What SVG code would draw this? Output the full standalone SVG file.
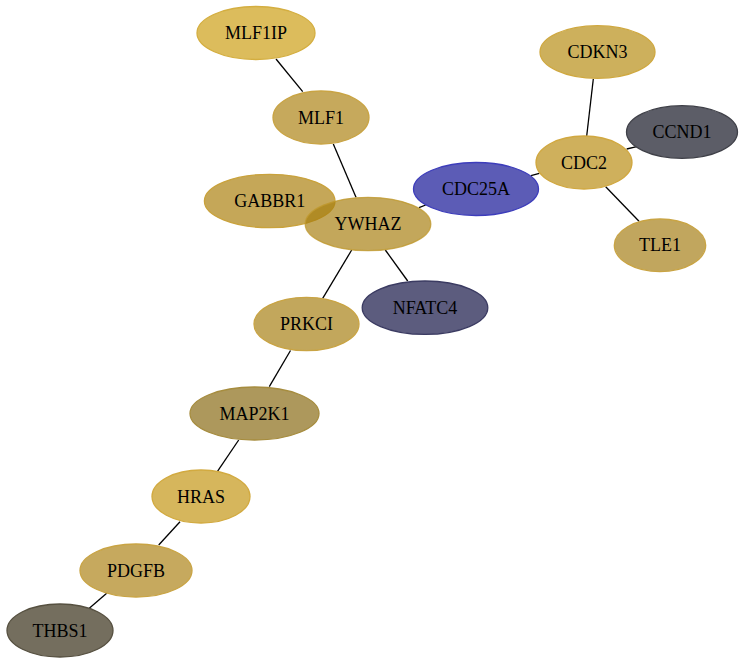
<svg xmlns="http://www.w3.org/2000/svg" width="745" height="664" viewBox="0 0 745 664">
<style>
.n ellipse{stroke-width:1.3}
.n text{font-family:"Liberation Serif","Times New Roman",serif;font-size:18px;text-anchor:middle;fill:#000}
#edges line{stroke:#000;stroke-width:1.3}
</style>
<rect width="745" height="664" fill="#fff"/>
<g id="edges">
<line x1="276" y1="59" x2="302.7" y2="91.7"/>
<line x1="333.3" y1="144" x2="356" y2="197.3"/>
<line x1="419" y1="207.7" x2="425.7" y2="205"/>
<line x1="351.7" y1="250" x2="322.7" y2="298.3"/>
<line x1="385.3" y1="250" x2="407.7" y2="281"/>
<line x1="531" y1="175.7" x2="539.3" y2="173.3"/>
<line x1="593.3" y1="79" x2="586.7" y2="136"/>
<line x1="626.7" y1="149" x2="636.7" y2="146.7"/>
<line x1="605.7" y1="186.7" x2="639" y2="221.3"/>
<line x1="290.5" y1="350.5" x2="269.3" y2="386.7"/>
<line x1="238.7" y1="440" x2="217.3" y2="471.7"/>
<line x1="180" y1="521.7" x2="158.7" y2="545"/>
<line x1="106.7" y1="593.3" x2="89.3" y2="608.3"/>
</g>
<g id="MLF1IP" class="n"><ellipse cx="256" cy="33" rx="59" ry="26.5" fill="#dcbc5c" stroke="#d4ae40"/><text x="256" y="39">MLF1IP</text></g>
<g id="MLF1" class="n"><ellipse cx="321" cy="117.5" rx="48" ry="26.5" fill="#c6a95c" stroke="#c9a444"/><text x="321" y="123.5">MLF1</text></g>
<g id="CDKN3" class="n"><ellipse cx="597.5" cy="52" rx="57.5" ry="26.3" fill="#cdb05c" stroke="#cfa840"/><text x="597.5" y="58">CDKN3</text></g>
<g id="CCND1" class="n"><ellipse cx="682" cy="132" rx="55.5" ry="26.3" fill="#5c5d67" stroke="#3f4048"/><text x="682" y="138">CCND1</text></g>
<g id="CDC2" class="n"><ellipse cx="584" cy="162.5" rx="48" ry="26.5" fill="#cfb05c" stroke="#d1a840"/><text x="584" y="168.5">CDC2</text></g>
<g id="CDC25A" class="n"><ellipse cx="476" cy="189" rx="62.5" ry="26.5" fill="#5c5cb6" stroke="#3d3dbb"/><text x="476" y="195">CDC25A</text></g>
<g id="GABBR1" class="n"><ellipse cx="269.7" cy="201" rx="65.3" ry="26.7" fill="#c5a758" stroke="#c9a23c"/><text x="269.7" y="207">GABBR1</text></g>
<g id="YWHAZ" class="n"><ellipse cx="368" cy="224" rx="62.8" ry="26.7" fill="rgb(167,126,14)" fill-opacity="0.68" stroke="#c09a30" stroke-opacity="0.8"/><text x="368" y="230">YWHAZ</text></g>
<g id="TLE1" class="n"><ellipse cx="660" cy="245.3" rx="45.7" ry="26.3" fill="#c1a65e" stroke="#c9a444"/><text x="660" y="251.3">TLE1</text></g>
<g id="NFATC4" class="n"><ellipse cx="425" cy="307.7" rx="62.8" ry="26.7" fill="#5c5c7e" stroke="#3b3b62"/><text x="425" y="313.7">NFATC4</text></g>
<g id="PRKCI" class="n"><ellipse cx="306.5" cy="324" rx="52.5" ry="26.7" fill="#c2a75c" stroke="#c9a444"/><text x="306.5" y="330">PRKCI</text></g>
<g id="MAP2K1" class="n"><ellipse cx="254.5" cy="413.5" rx="64.5" ry="26.5" fill="#ad985c" stroke="#a68c3e"/><text x="254.5" y="419.5">MAP2K1</text></g>
<g id="HRAS" class="n"><ellipse cx="201" cy="496.5" rx="49" ry="26.5" fill="#d6b65c" stroke="#d2aa40"/><text x="201" y="502.5">HRAS</text></g>
<g id="PDGFB" class="n"><ellipse cx="136" cy="570.5" rx="56" ry="26.5" fill="#c6a95e" stroke="#c9a444"/><text x="136" y="576.5">PDGFB</text></g>
<g id="THBS1" class="n"><ellipse cx="60" cy="630.5" rx="53" ry="26.5" fill="#746e5e" stroke="#565040"/><text x="60" y="636.5">THBS1</text></g>
</svg>
